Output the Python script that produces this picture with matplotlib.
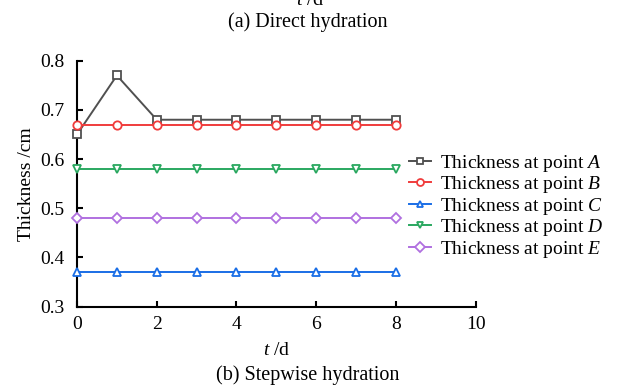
import matplotlib.pyplot as plt
import numpy as np

plt.rcParams['font.family'] = ['Liberation Serif', 'DejaVu Serif']
plt.rcParams['mathtext.fontset'] = 'custom'
plt.rcParams['mathtext.it'] = 'Liberation Serif:italic'
plt.rcParams['mathtext.rm'] = 'Liberation Serif'

# 数据
days = [0, 1, 2, 3, 4, 5, 6, 7, 8]
thick_a = [0.65, 0.77, 0.68, 0.68, 0.68, 0.68, 0.68, 0.68, 0.68]
thick_b = [0.67, 0.67, 0.67, 0.67, 0.67, 0.67, 0.67, 0.67, 0.67]
thick_c = [0.37, 0.37, 0.37, 0.37, 0.37, 0.37, 0.37, 0.37, 0.37]
thick_d = [0.58, 0.58, 0.58, 0.58, 0.58, 0.58, 0.58, 0.58, 0.58]
thick_e = [0.48, 0.48, 0.48, 0.48, 0.48, 0.48, 0.48, 0.48, 0.48]
point_names = ["A", "B", "C", "D", "E"]

fig = plt.figure(figsize=(6.17, 3.87), dpi=100)
ax = fig.add_axes([0.1248, 0.2075, 0.6462, 0.6357])

series = [
    (thick_a, "#505050", "s"),
    (thick_b, "#f03c3c", "o"),
    (thick_c, "#1a6ee6", "^"),
    (thick_d, "#2aa860", "v"),
    (thick_e, "#b070e0", "D"),
]
for (vals, col, mk), name in zip(series, point_names):
    ax.plot(days, vals, color=col, marker=mk, markersize=6 if mk != "D" else 5.3,
            markerfacecolor="white", markeredgewidth=1.3, linewidth=1.4,
            label="Thickness at point $\\mathit{%s}$" % name, clip_on=False, zorder=3)

ax.set_xlim(0, 10)
ax.set_ylim(0.3, 0.8)
ax.set_xticks([0, 2, 4, 6, 8, 10])
ax.set_yticks([0.3, 0.4, 0.5, 0.6, 0.7, 0.8])
ax.spines['top'].set_visible(False)
ax.spines['right'].set_visible(False)
ax.spines['left'].set_linewidth(1.5)
ax.spines['bottom'].set_linewidth(1.5)
ax.tick_params(direction='in', length=4, width=1.5, labelsize=14)
ax.tick_params(axis='x', pad=7)
ax.tick_params(axis='y', pad=9)
ax.set_ylabel("Thickness /cm", fontsize=14, labelpad=4)
ax.set_xlabel("$\\mathit{t}$ /d", fontsize=14, labelpad=6)

leg = fig.legend(loc='upper left', bbox_to_anchor=(409 / 617, 1 - 152.5 / 387), frameon=False,
                 fontsize=14, handlelength=1.15, handletextpad=0.45,
                 labelspacing=0.03, borderpad=0, borderaxespad=0)
for h in leg.legend_handles:
    h.set_markersize(5)

fig.text(0.499, 0.018, "(b) Stepwise hydration", ha='center', va='baseline', fontsize=14.5)
fig.text(0.499, 0.930, "(a) Direct hydration", ha='center', va='baseline', fontsize=14.5)
fig.text(0.502, 0.987, "$\\mathit{t}$ /d", ha='center', va='baseline', fontsize=14.5)

plt.savefig("out.png", dpi=100)
